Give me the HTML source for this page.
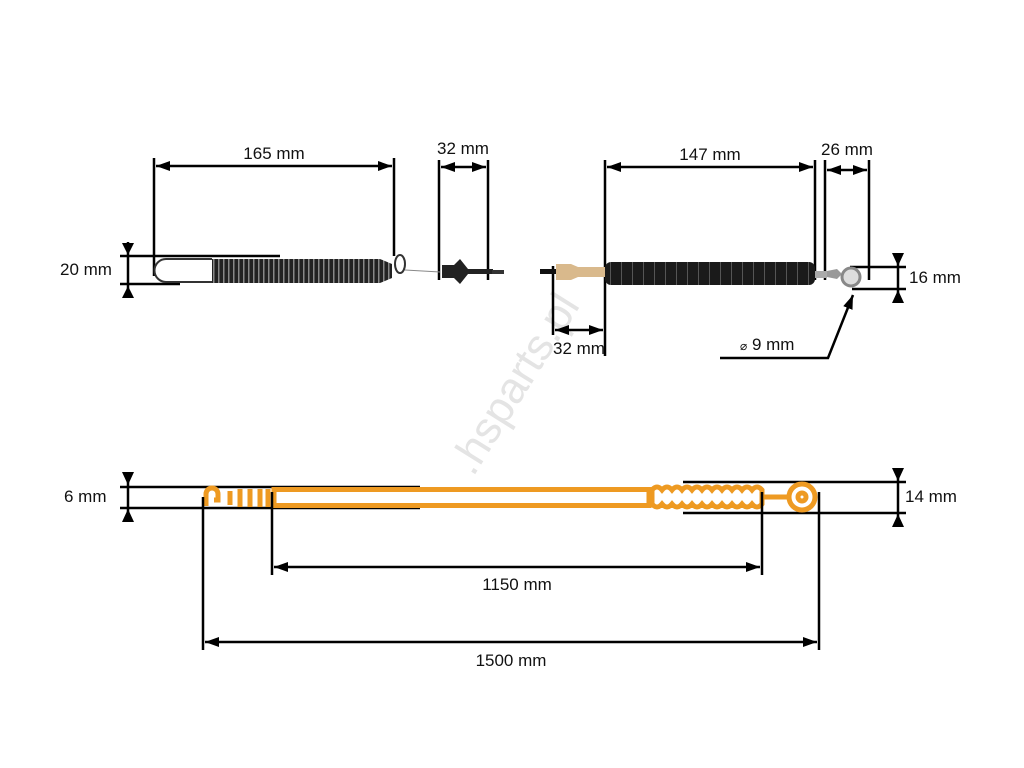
<!DOCTYPE html>
<html><head><style>body{margin:0;background:#fff}svg{display:block}text{font-family:"Liberation Sans",sans-serif;font-size:17px;fill:#111}</style></head><body>
<svg width="1024" height="768" viewBox="0 0 1024 768" xmlns="http://www.w3.org/2000/svg">
<defs>
<marker id="a" markerWidth="14" markerHeight="10" refX="14" refY="5" orient="auto-start-reverse" markerUnits="userSpaceOnUse"><path d="M0,0L14,5L0,10z" fill="#000"/></marker>
<pattern id="coil" width="5" height="30" patternUnits="userSpaceOnUse"><rect width="5" height="30" fill="#222"/><rect x="3" width="1.5" height="30" fill="#888"/></pattern>
<pattern id="bel" width="11" height="30" patternUnits="userSpaceOnUse"><rect width="11" height="30" fill="#1a1a1a"/><rect x="5" width="1" height="30" fill="#555"/></pattern>
</defs>
<text x="515" y="398" text-anchor="middle" transform="rotate(-58 515 384)" style="font-size:44px;fill:#e4e4e4">.hsparts.pl</text>
<g stroke="#000" stroke-width="2.5" fill="none">
<line x1="154" y1="158" x2="154" y2="276"/><line x1="394" y1="158" x2="394" y2="256"/>
<line x1="156" y1="166" x2="392" y2="166" marker-start="url(#a)" marker-end="url(#a)"/>
<line x1="120" y1="256" x2="280" y2="256"/><line x1="120" y1="284" x2="180" y2="284"/>
<line x1="128" y1="242" x2="128" y2="298"/>
<line x1="439" y1="160" x2="439" y2="280"/><line x1="488" y1="160" x2="488" y2="280"/>
<line x1="441" y1="167" x2="486" y2="167" marker-start="url(#a)" marker-end="url(#a)"/>
<line x1="605" y1="160" x2="605" y2="356"/><line x1="815" y1="160" x2="815" y2="280"/>
<line x1="607" y1="167" x2="813" y2="167" marker-start="url(#a)" marker-end="url(#a)"/>
<line x1="825" y1="160" x2="825" y2="280"/><line x1="869" y1="160" x2="869" y2="280"/>
<line x1="827" y1="170" x2="867" y2="170" marker-start="url(#a)" marker-end="url(#a)"/>
<line x1="553" y1="266" x2="553" y2="335"/>
<line x1="555" y1="330" x2="603" y2="330" marker-start="url(#a)" marker-end="url(#a)"/>
<line x1="850" y1="267" x2="906" y2="267"/><line x1="852" y1="289" x2="906" y2="289"/>
<line x1="898" y1="253" x2="898" y2="303"/>
<polyline points="720,358 828,358 853,295" marker-end="url(#a)"/>
<line x1="120" y1="487" x2="420" y2="487"/><line x1="120" y1="508" x2="420" y2="508"/>
<line x1="128" y1="472" x2="128" y2="522"/>
<line x1="683" y1="482" x2="906" y2="482"/><line x1="683" y1="513" x2="906" y2="513"/>
<line x1="898" y1="468" x2="898" y2="527"/>
</g>
<g fill="#000">
<path d="M122,243h12l-6,12z"/><path d="M122,298h12l-6,-12z"/>
<path d="M892,253h12l-6,13z"/><path d="M892,303h12l-6,-13z"/>
<path d="M122,472h12l-6,13z"/><path d="M122,522h12l-6,-13z"/>
<path d="M892,468h12l-6,13z"/><path d="M892,527h12l-6,-13z"/>
</g>
<path d="M212,259H166a11,11 0 0 0 0,23H212" stroke="#333" stroke-width="2" fill="none"/>
<path d="M212,259H380L392,264V278L380,283H212z" fill="url(#coil)"/>
<ellipse cx="400" cy="264" rx="5" ry="9" stroke="#333" stroke-width="2" fill="none"/>
<line x1="405" y1="270" x2="440" y2="272" stroke="#888" stroke-width="1"/>
<path d="M442,265h12l6,-6l8,10h25v5h-25l-8,10l-6,-6h-12z" fill="#222"/>
<rect x="492" y="270" width="12" height="4" fill="#333"/>
<rect x="540" y="269" width="16" height="5" fill="#111"/>
<path d="M556,264h15l7,3h27v10h-27l-7,3h-15z" fill="#d9b98c"/>
<rect x="605" y="262" width="210" height="23" rx="6" fill="url(#bel)"/>
<rect x="815" y="271" width="12" height="7" fill="#aaa"/>
<path d="M827,271l10,-2l4,4h0v2l-4,4l-10,-2z" fill="#999"/>
<circle cx="851" cy="277" r="9" fill="#ddd" stroke="#888" stroke-width="3"/>
<g stroke="#ee9a22" fill="none" stroke-width="5">
<rect x="274" y="489.5" width="375" height="16"/>
<path d="M206,506v-12a6,6 0 0 1 12,0v6h-4"/>
<path d="M230,491v14M240,489v18M250,489v18M260,489v18M268,489v18"/>
<path d="M652,490 q5,-6 10,0 q5,-6 10,0 q5,-6 10,0 q5,-6 10,0 q5,-6 10,0 q5,-6 10,0 q5,-6 10,0 q5,-6 10,0 q5,-6 10,0 q5,-6 10,0 q5,-6 10,0 v14 q-5,6 -10,0 q-5,6 -10,0 q-5,6 -10,0 q-5,6 -10,0 q-5,6 -10,0 q-5,6 -10,0 q-5,6 -10,0 q-5,6 -10,0 q-5,6 -10,0 q-5,6 -10,0 q-5,6 -10,0z"/>
<line x1="762" y1="497" x2="789" y2="497"/>
<circle cx="802" cy="497" r="13"/>
<circle cx="802" cy="497" r="4"/>
</g>
<g stroke="#000" stroke-width="2.5" fill="none">
<line x1="203" y1="497" x2="203" y2="650"/><line x1="272" y1="492" x2="272" y2="575"/>
<line x1="762" y1="492" x2="762" y2="575"/><line x1="819" y1="492" x2="819" y2="650"/>
<line x1="274" y1="567" x2="760" y2="567" marker-start="url(#a)" marker-end="url(#a)"/>
<line x1="205" y1="642" x2="817" y2="642" marker-start="url(#a)" marker-end="url(#a)"/>
</g>
<text x="274" y="159" text-anchor="middle">165 mm</text>
<text x="463" y="154" text-anchor="middle">32 mm</text>
<text x="60" y="275">20 mm</text>
<text x="710" y="160" text-anchor="middle">147 mm</text>
<text x="847" y="155" text-anchor="middle">26 mm</text>
<text x="909" y="283">16 mm</text>
<text x="579" y="354" text-anchor="middle">32 mm</text>
<text x="740" y="350"><tspan style="font-size:12px">⌀</tspan> 9 mm</text>
<text x="64" y="502">6 mm</text>
<text x="905" y="502">14 mm</text>
<text x="517" y="590" text-anchor="middle">1150 mm</text>
<text x="511" y="666" text-anchor="middle">1500 mm</text>
</svg>
</body></html>
